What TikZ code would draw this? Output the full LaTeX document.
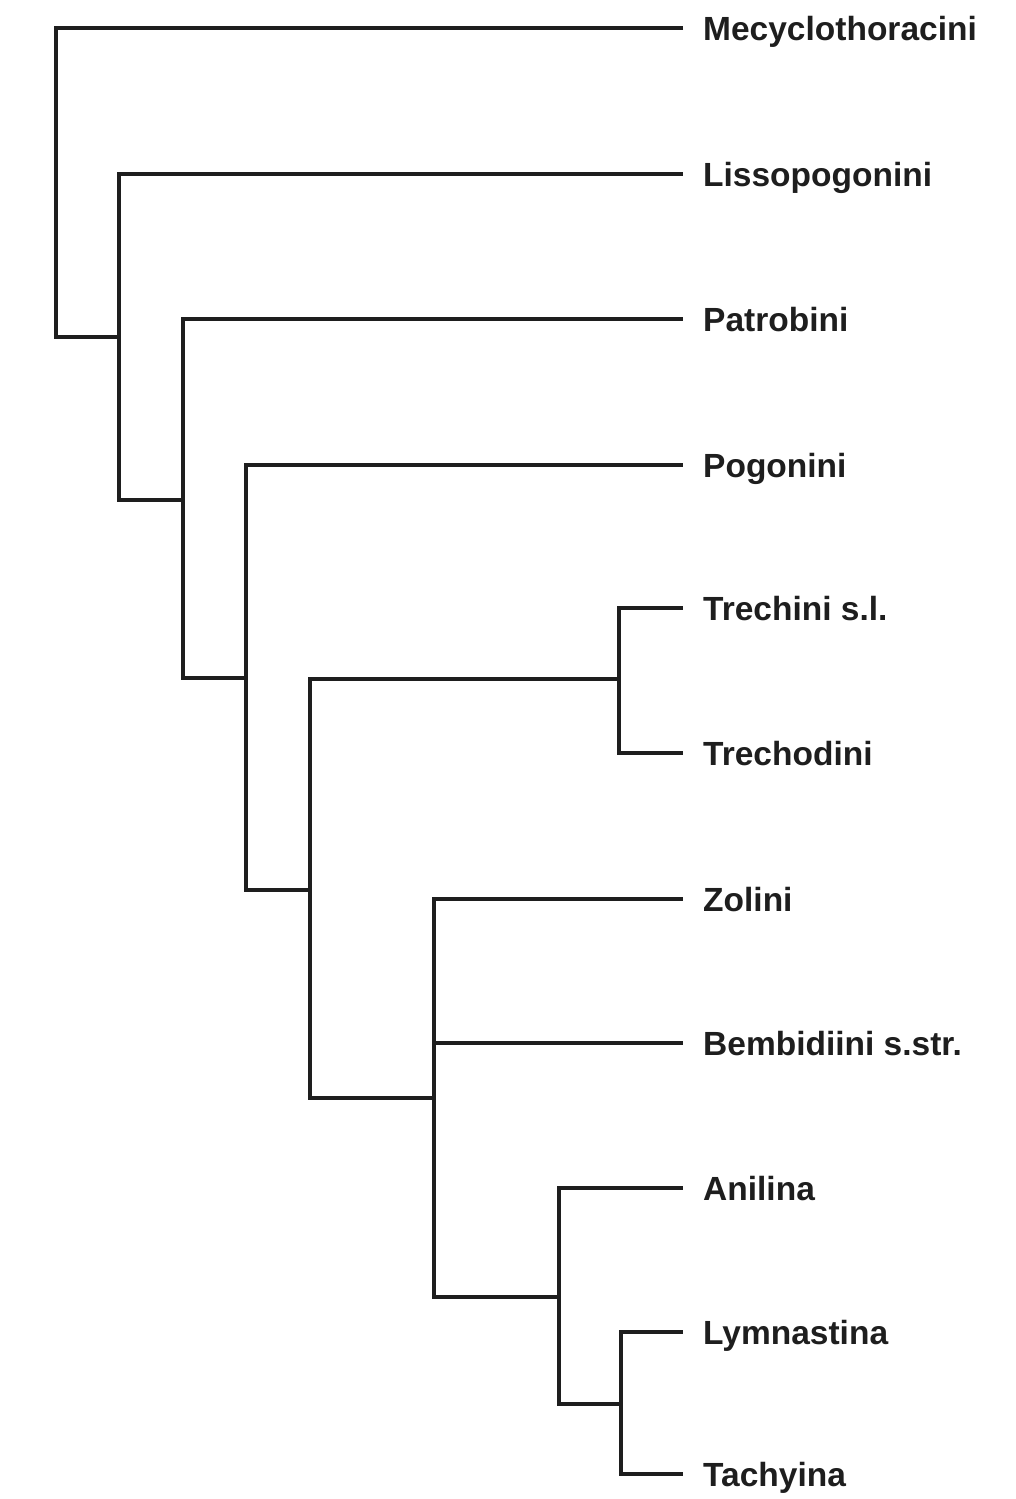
\documentclass[tikz,border=0pt]{standalone}
\usepackage{fontspec}
\setmainfont{Liberation Sans}
\definecolor{ink}{HTML}{1E1E1E}
\tikzset{
  branch/.style={draw=ink, line width=3.2pt, line join=miter},
  taxon/.style={anchor=base west, inner sep=0pt, text=ink,
    font=\fontsize{33.5}{40}\selectfont\bfseries},
}
\begin{document}
\begin{tikzpicture}[x=1pt,y=-1pt]
\useasboundingbox (0,0) rectangle (1016,1499);

% leaf tips
\foreach \name/\y in {t1/28,t2/174,t3/319,t4/465,t5/608,t6/753,t7/899,t8/1043,t9/1188,t10/1332,t11/1474}
  \coordinate (\name) at (683,\y);

% taxon labels
\node[taxon] (a1)  at (703,28+12.5)   {Mecyclothoracini};
\node[taxon] (a2)  at (703,174+12.5)  {Lissopogonini};
\node[taxon] (a3)  at (703,319+12.5)  {Patrobini};
\node[taxon] (a4)  at (703,465+12.5)  {Pogonini};
\node[taxon] (a5)  at (703,608+12.5)  {Trechini s.l.};
\node[taxon] (a6)  at (703,753+12.5)  {Trechodini};
\node[taxon] (a7)  at (703,899+12.5)  {Zolini};
\node[taxon] (a8)  at (703,1043+12.5) {Bembidiini s.str.};
\node[taxon] (a9)  at (703,1188+12.5) {Anilina};
\node[taxon] (a10) at (703,1332+12.5) {Lymnastina};
\node[taxon] (a11) at (703,1474+12.5) {Tachyina};

% internal nodes: x = position of the vertical bar,
% y = height where the stem joins the parent bar
\coordinate (n1) at (56,337);
\coordinate (n2) at (119,337);
\coordinate (n3) at (183,500);
\coordinate (n4) at (246,678);
\coordinate (n5) at (310,890);
\coordinate (n6) at (619,679);
\coordinate (n7) at (434,1098);
\coordinate (n8) at (559,1297);
\coordinate (n9) at (621,1404);

% branches
\draw[branch] (t1) -| (n1) -- (n2);
\draw[branch] (n2) |- (t2);  \draw[branch] (n2) |- (n3);
\draw[branch] (n3) |- (t3);  \draw[branch] (n3) |- (n4);
\draw[branch] (n4) |- (t4);  \draw[branch] (n4) |- (n5);
\draw[branch] (n5) |- (n6);  \draw[branch] (n5) |- (n7);
\draw[branch] (n6) |- (t5);  \draw[branch] (n6) |- (t6);
\draw[branch] (n7) |- (t7);  \draw[branch] (n7) |- (t8);
\draw[branch] (n7) |- (n8);
\draw[branch] (n8) |- (t9);  \draw[branch] (n8) |- (n9);
\draw[branch] (n9) |- (t10); \draw[branch] (n9) |- (t11);
\end{tikzpicture}
\end{document}
